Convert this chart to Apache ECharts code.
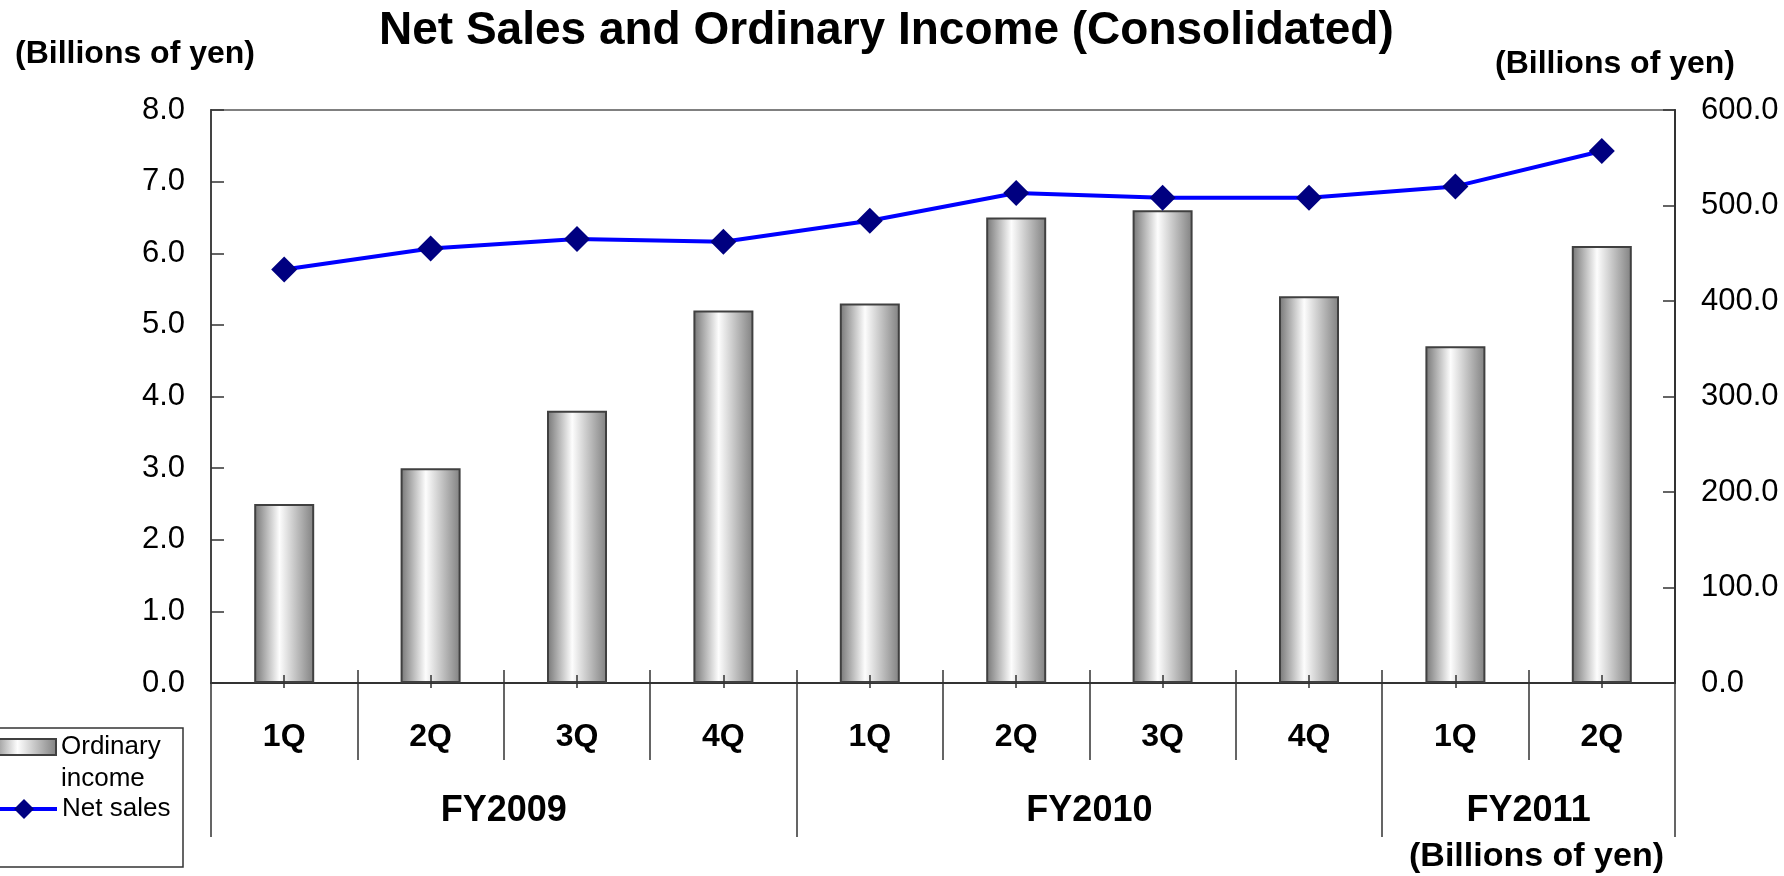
<!DOCTYPE html>
<html>
<head>
<meta charset="utf-8">
<script src="https://cdn.jsdelivr.net/npm/echarts@6/dist/echarts.min.js"></script>
<style>
    html, body { margin: 0; padding: 0; background: #fff; }
    #chart { width: 1784px; height: 876px; }
</style>
</head>
<body>
<div id="chart"></div>
<script>
const quarters = ['1Q', '2Q', '3Q', '4Q', '1Q', '2Q', '3Q', '4Q', '1Q', '2Q']
const fiscalYears = ['FY2009', 'FY2010', 'FY2011']
const fyFirstQuarter = [0, 4, 8]
const fyQuarterCount = [4, 4, 2]
const ordinaryIncome = [2.5, 3.0, 3.8, 5.2, 5.3, 6.5, 6.6, 5.4, 4.7, 6.1]
const netSales = [433, 455, 465, 462, 484, 513, 508, 508, 520, 557]
const incomeTicks = { min: 0, max: 8, interval: 1 }
const salesTicks = { min: 0, max: 600, interval: 100 }

const FONT = 'Liberation Sans, Arial, Helvetica, sans-serif'
const AXIS_COLOR = '#333'

// positions on a 0..n value scale that lines up with the category bands
const n = quarters.length
const fyBounds = fyFirstQuarter.concat([n])
const fyCenters = fyFirstQuarter.map((s, i) => s + fyQuarterCount[i] / 2)
const innerBounds = quarters.slice(1).map((q, i) => i + 1)
const bandCenters = quarters.map((q, i) => i + 0.5)

function decoAxis(extra) {
    return Object.assign({
        type: 'value',
        min: 0,
        max: n,
        position: 'bottom',
        axisLine: { show: false, onZero: false },
        splitLine: { show: false },
        axisLabel: { show: false },
        axisTick: { show: false }
    }, extra)
}

function tickStyle() {
    return { color: AXIS_COLOR, width: 1.5 }
}

function draw() {
    var dom = document.getElementById('chart')
    var myChart = echarts.init(dom, null, { renderer: 'canvas' })

    var barGradient = {
        type: 'linear', x: 0, y: 0, x2: 1, y2: 0,
        colorStops: [
            { offset: 0, color: '#757575' },
            { offset: 0.42, color: '#fdfdfd' },
            { offset: 1, color: '#808080' }
        ]
    }

    var option = {
        animation: false,
        textStyle: { fontFamily: FONT, color: '#000' },
        title: [
            {
                text: 'Net Sales and Ordinary Income (Consolidated)',
                left: 379, top: 8, padding: 0,
                textStyle: { fontSize: 46, fontWeight: 'bold', color: '#000', fontFamily: FONT }
            },
            {
                text: '(Billions of yen)',
                left: 15, top: 38, padding: 0,
                textStyle: { fontSize: 32, fontWeight: 'bold', color: '#000', fontFamily: FONT }
            },
            {
                text: '(Billions of yen)',
                left: 1495, top: 48, padding: 0,
                textStyle: { fontSize: 32, fontWeight: 'bold', color: '#000', fontFamily: FONT }
            },
            {
                text: '(Billions of yen)',
                left: 1409, top: 840, padding: 0,
                textStyle: { fontSize: 34, fontWeight: 'bold', color: '#000', fontFamily: FONT }
            }
        ],
        legend: [
            {
                orient: 'vertical',
                left: -11, top: 731, padding: 0,
                itemWidth: 66, itemHeight: 48,
                selectedMode: false,
                data: [{ name: 'Ordinary income', icon: 'path://M0,0H66V16H0Z M0,48' }],
                formatter: name => name.replace(' ', '\n'),
                textStyle: { fontSize: 26, lineHeight: 32, color: '#000', fontFamily: FONT }
            },
            {
                orient: 'vertical',
                left: -11, top: 796, padding: 0,
                itemWidth: 66, itemHeight: 25,
                selectedMode: false,
                data: [{ name: 'Net sales', lineStyle: { width: 4 } }],
                textStyle: { fontSize: 26, color: '#000', fontFamily: FONT }
            }
        ],
        graphic: [
            {
                type: 'rect',
                shape: { x: -5, y: 728, width: 188, height: 139 },
                style: { fill: 'none', stroke: '#333', lineWidth: 1.5 }
            }
        ],
        grid: {
            left: 211, right: 109, top: 110, bottom: 193,
            show: true, borderColor: '#808080', borderWidth: 2
        },
        xAxis: [
            {
                type: 'category',
                data: quarters,
                position: 'bottom',
                axisLine: { onZero: false, lineStyle: { color: AXIS_COLOR, width: 2 } },
                axisTick: { show: false },
                axisLabel: { fontSize: 32, fontWeight: 'bold', color: '#000', margin: 38 },
                splitLine: { show: false }
            },
            // fiscal year separators and names
            decoAxis({
                axisTick: { show: true, customValues: fyBounds, length: 154, lineStyle: tickStyle() },
                axisLabel: {
                    show: true, customValues: fyCenters, margin: 110,
                    fontSize: 36, fontWeight: 'bold', color: '#000',
                    formatter: v => fiscalYears[fyCenters.indexOf(v)]
                }
            }),
            // quarter separators below the axis
            decoAxis({
                axisTick: { show: true, customValues: innerBounds, length: 77, lineStyle: tickStyle() }
            }),
            // quarter separators poking above the axis
            decoAxis({
                axisTick: { show: true, inside: true, customValues: innerBounds, length: 13, lineStyle: tickStyle() }
            }),
            // small marks at the middle of each quarter, over the bars
            decoAxis({
                offset: 5,
                z: 10,
                axisTick: { show: true, inside: true, customValues: bandCenters, length: 13, lineStyle: tickStyle() }
            })
        ],
        yAxis: [
            {
                type: 'value',
                position: 'left',
                min: incomeTicks.min, max: incomeTicks.max, interval: incomeTicks.interval,
                axisLine: { show: true, onZero: false, lineStyle: { color: '#444', width: 2 } },
                axisTick: { show: true, inside: true, length: 13, lineStyle: tickStyle() },
                axisLabel: { fontSize: 31, color: '#000', margin: 26, formatter: v => v.toFixed(1) },
                splitLine: { show: false }
            },
            {
                type: 'value',
                position: 'right',
                min: salesTicks.min, max: salesTicks.max, interval: salesTicks.interval,
                axisLine: { show: true, onZero: false, lineStyle: { color: AXIS_COLOR, width: 2 } },
                axisTick: { show: true, inside: true, length: 12, lineStyle: tickStyle() },
                axisLabel: { fontSize: 31, color: '#000', margin: 26, formatter: v => v.toFixed(1) },
                splitLine: { show: false }
            }
        ],
        series: [
            {
                name: 'Ordinary income',
                type: 'bar',
                xAxisIndex: 0,
                yAxisIndex: 0,
                data: ordinaryIncome,
                barWidth: 60,
                itemStyle: { color: barGradient, borderColor: '#404040', borderWidth: 2 },
                z: 2
            },
            {
                name: 'Net sales',
                type: 'line',
                xAxisIndex: 0,
                yAxisIndex: 1,
                data: netSales,
                symbol: 'diamond',
                symbolSize: 26,
                lineStyle: { color: '#0000ff', width: 4 },
                itemStyle: { color: '#000080' },
                z: 3
            }
        ]
    }

    option && myChart.setOption(option)
    window.addEventListener('resize', myChart.resize)
}

draw()
</script>
</body>
</html>
